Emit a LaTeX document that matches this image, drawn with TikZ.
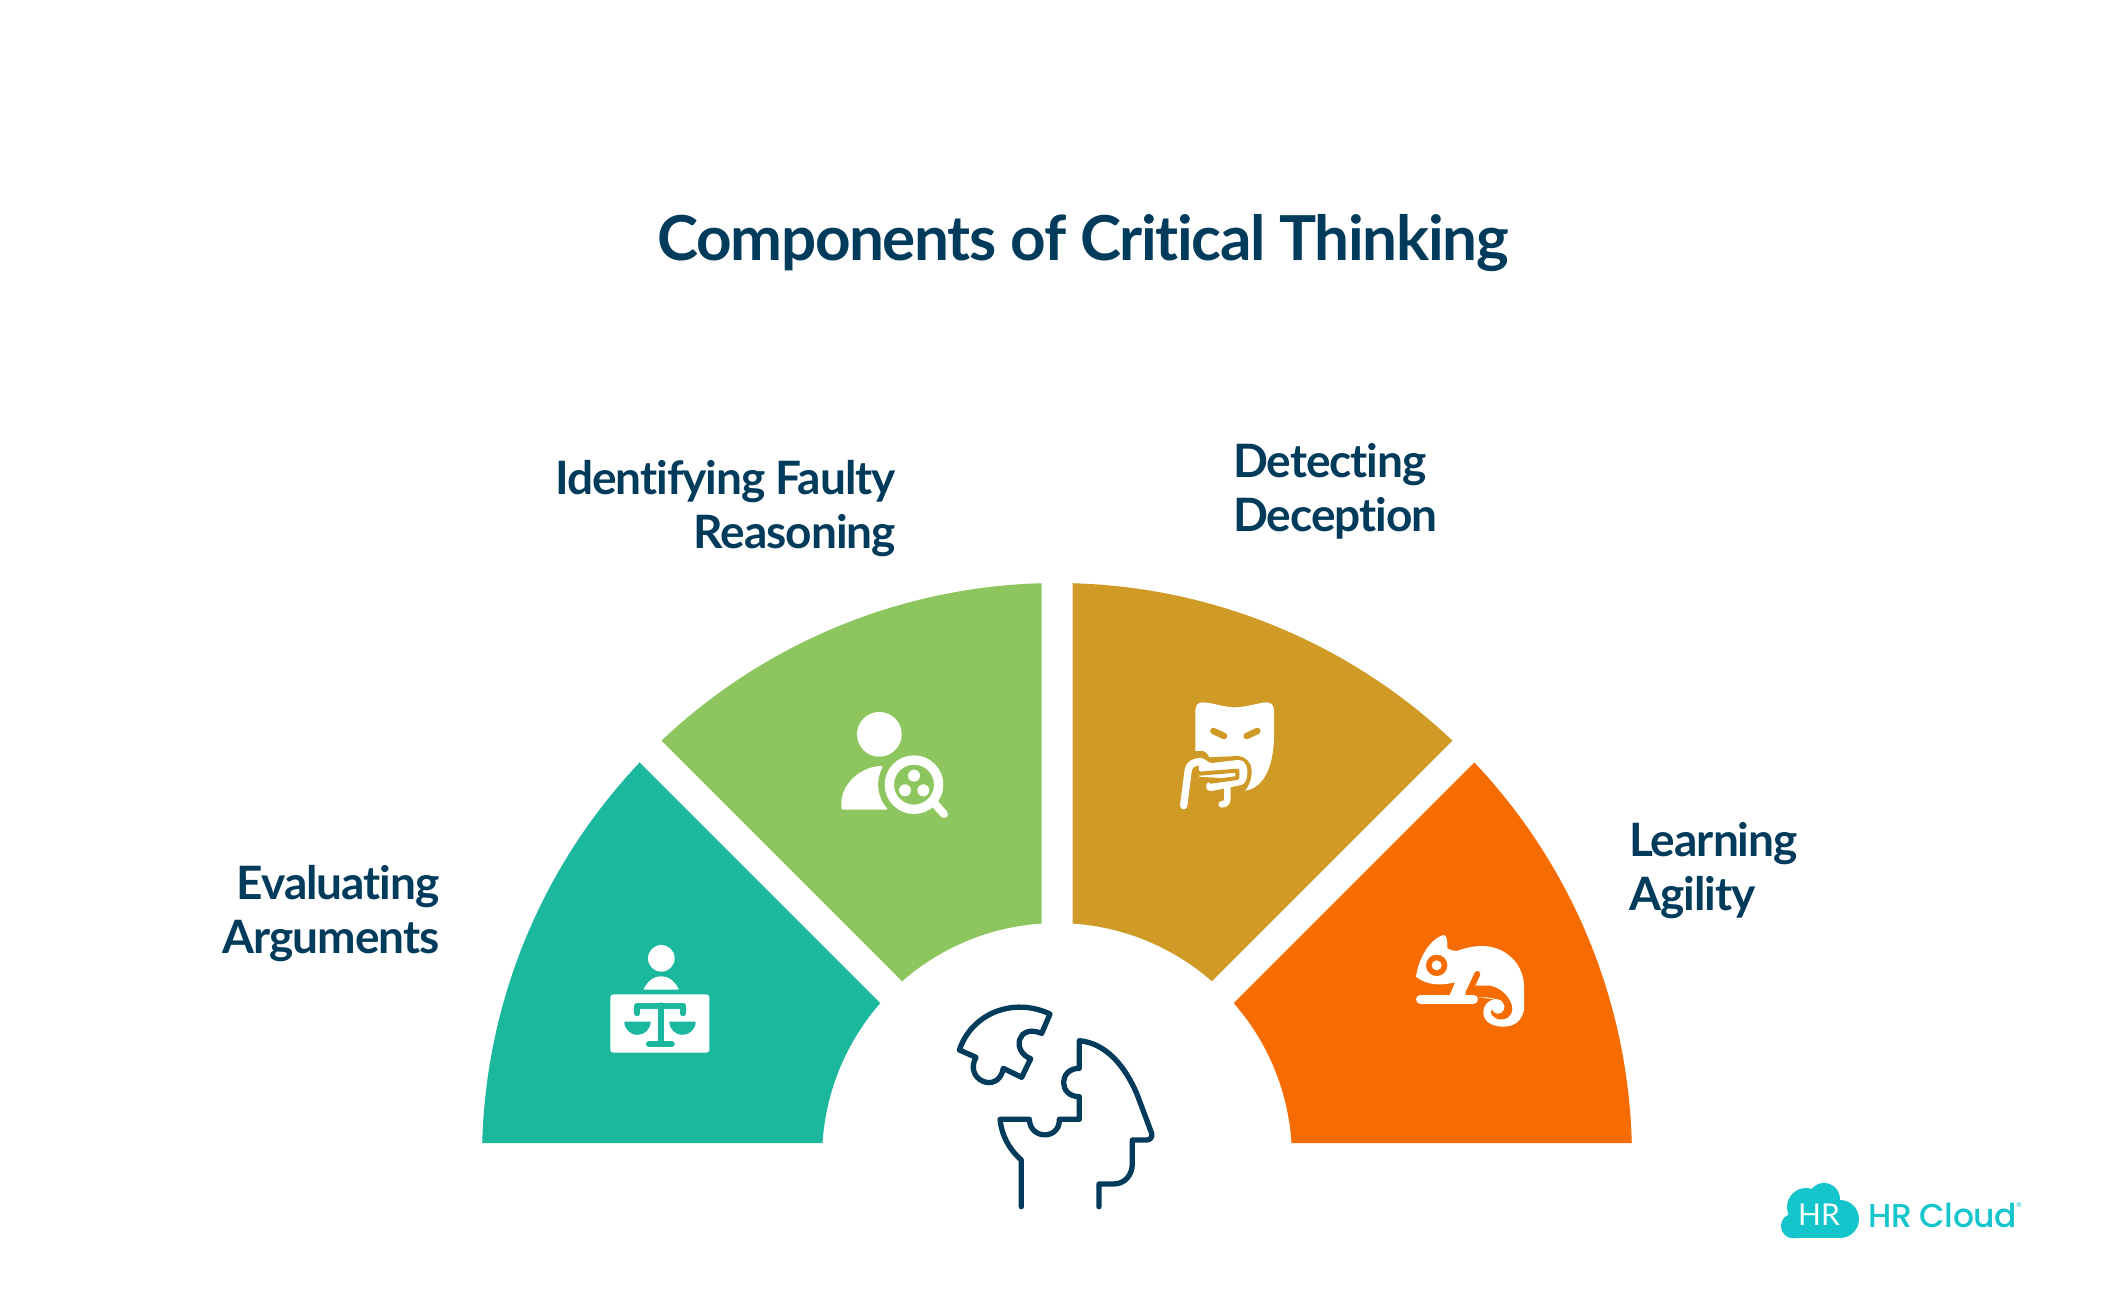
\documentclass[tikz,border=0pt]{standalone}
\usepackage{fontspec}
\setmainfont{Lato}
\newfontfamily\labelfont{Lato}[BoldFont={Lato Bold},LetterSpace=-2.2,Ligatures=NoCommon]
\newfontfamily\plainfont{Lato}
\newfontfamily\logofont{Poppins Medium}[LetterSpace=-1.5]
\definecolor{navy}{HTML}{003B5C}
\definecolor{tealc}{HTML}{1CB89D}
\definecolor{greenc}{HTML}{8DC65F}
\definecolor{goldc}{HTML}{CF9A25}
\definecolor{orangec}{HTML}{F76C00}
\definecolor{cyanc}{HTML}{14C6CC}
\newcommand{\sector}[5]{% colour, outer start, outer end, inner start, inner end
  \fill[#1] (#2:575) arc[start angle=#2,end angle=#3,radius=575pt] -- (#4:235) arc[start angle=#4,end angle=#5,radius=235pt] -- cycle;}
\tikzset{
  lbl/.style={inner sep=0pt,text=navy,font=\fontsize{46}{54}\selectfont\bfseries\labelfont},
  iconw/.style={draw=white,line cap=round,line join=round},
  brainline/.style={draw=navy,line width=5.3pt,line cap=round,line join=round},
}
\begin{document}
\begin{tikzpicture}[x=1pt,y=-1pt]
\useasboundingbox (0,0) rectangle (2112,1316);
\fill[white] (0,0) rectangle (2112,1316);
\node[lbl,font=\fontsize{62}{70}\selectfont\bfseries\labelfont,anchor=base] (title) at (1083,260) {Components of Critical Thinking};
\begin{scope}[shift={(1057,1158)},y=1pt]
\sector{tealc}{136.545}{178.505}{176.34}{138.78}
\sector{greenc}{133.455}{91.545}{93.78}{131.22}
\sector{goldc}{88.455}{46.545}{48.78}{86.22}
\sector{orangec}{43.455}{1.495}{3.66}{41.22}
\end{scope}
\node[lbl,align=right,anchor=east] (l1) at (440,914) {Evaluating\\Arguments};
\node[lbl,align=right,anchor=east] (l2) at (896,509) {Identifying Faulty\\Reasoning};
\node[lbl,align=left,anchor=west] (l3) at (1233,491) {Detecting\\Deception};
\node[lbl,align=left,anchor=west] (l4) at (1629,871) {Learning\\Agility};
% teal icon
\begin{scope}[shift={(590,930)},scale=.33333]
\fill[white] (214,85) circle (40pt);
\fill[white,rounded corners=1pt] (160,179) .. controls (175,150) and (195,139) .. (213,139) .. controls (232,139) and (252,150) .. (267,179) -- cycle;
\fill[white,rounded corners=3pt] (61,193) rectangle (358,368);
\draw[tealc,line width=6pt,line cap=round,line join=round] (142,250) -- (142,226.5) -- (279,226.5) -- (279,250);
\draw[tealc,line width=6pt,line cap=round] (213,226) -- (213,342);
\draw[tealc,line width=6.3pt,line cap=round] (177,342) -- (245,342);
\fill[tealc] (103,275) .. controls (103,297) and (120.6,314.5) .. (142.5,314.5) .. controls (164,314.5) and (182,297) .. (182,275) -- cycle;
\fill[tealc] (238,275) .. controls (238,297) and (255.6,314.5) .. (277.5,314.5) .. controls (299,314.5) and (317,297) .. (317,275) -- cycle;
\end{scope}
% green icon
\begin{scope}[shift={(800,680)},scale=.33333]
\fill[white] (238,163) circle (67pt);
\fill[white,rounded corners=1.5pt] (124,389) -- (124,375) .. controls (124,310) and (185,258) .. (250,258) .. controls (225,300) and (232,355) .. (265,389) -- cycle;
\draw[white,line width=9.3pt] (342,314) circle (74pt);
\fill[white] (342,287) circle (18pt) (315,331) circle (18pt) (370,331) circle (18pt);
\draw[iconw,line width=8pt] (405,372) -- (432,402);
\end{scope}
% gold icon
\begin{scope}[shift={(1150,680)},scale=.33333]
\fill[white] (136,215) -- (136,92) .. controls (136,75) and (145,66) .. (160,67) .. controls (195,70) and (225,82) .. (253,82) .. controls (285,82) and (320,70) .. (348,67) .. controls (362,66) and (372,75) .. (372,92) -- (372,165) .. controls (372,260) and (340,325) .. (285,332) -- (136,332) -- cycle;
\draw[goldc,line width=6.5pt,line cap=round] (190,153) -- (222,168) (290,168) -- (322,153);
\fill[goldc] (130,213) -- (160,213) .. controls (170,218) and (175,225) .. (178,232) -- (265,228) .. controls (290,232) and (305,250) .. (305,272) .. controls (305,300) and (295,320) .. (285,332) -- (285,350) -- (130,350) -- cycle;
\fill[white,rounded corners=2pt] (148,233) .. controls (162,235) and (172,243) .. (178,250) -- (262,240) .. controls (285,240) and (293,262) .. (292,282) .. controls (290,302) and (282,312) .. (270,316) -- (185,333) .. controls (165,333) and (165,305) .. (185,305) -- (230,295) -- (145,290) -- cycle;
\draw[goldc,line width=4pt,line join=round,line cap=round] (138,270) -- (148,281) -- (262,272) -- (262,294) -- (182,305);
\draw[iconw,line width=7.3pt] (101,377) -- (115,268) .. controls (118,252) and (135,245) .. (152,245);
\draw[iconw,line width=6.5pt] (232,322) -- (232,355) .. controls (232,368) and (225,373) .. (215,373);
\end{scope}
% orange icon
\begin{scope}[shift={(1400,920)},scale=.33333]
\fill[white] (48,170) .. controls (55,120) and (85,60) .. (130,45) .. controls (142,43) and (143,70) .. (142,85) .. controls (150,90) and (160,93) .. (170,93) .. controls (200,82) and (225,78) .. (245,78) .. controls (320,78) and (372,135) .. (372,200) -- (372,270) .. controls (365,305) and (340,320) .. (310,320) .. controls (270,320) and (250,300) .. (250,278) .. controls (250,255) and (265,240) .. (285,238) -- (200,228) -- (148,228) -- (165,187) .. controls (130,195) and (85,200) .. (48,170) -- cycle;
\fill[orangec] (224,197) -- (270,197) .. controls (310,205) and (335,240) .. (337,265) .. controls (337,290) and (315,303) .. (295,298) .. controls (278,292) and (268,280) .. (275,268) .. controls (280,280) and (295,285) .. (305,278) .. controls (318,268) and (318,245) .. (295,238) -- (262,232) -- (200,232) -- cycle;
\draw[orangec,line width=6pt,line cap=round] (232,162) -- (205,220);
\fill[orangec] (110,136) circle (32pt);
\fill[white] (110,136) circle (15pt);
\draw[iconw,line width=9.3pt] (62,238) -- (220,238);
\end{scope}
% centre head
\begin{scope}[shift={(950,1000)},scale=.33333]
\draw[brainline] (214,620) -- (214,480) .. controls (175,445) and (155,405) .. (150,358) -- (238,358) .. controls (240,420) and (330,420) .. (328,358) -- (388,358) -- (388,290) .. controls (325,290) and (325,205) .. (388,205) -- (388,122) .. controls (470,130) and (525,200) .. (560,280) -- (605,400) .. controls (608,412) and (600,420) .. (590,420) -- (547,420) -- (547,490) .. controls (547,525) and (525,552) .. (490,552) -- (447,552) -- (447,620);
\draw[brainline] (300,42) .. controls (190,-10) and (65,40) .. (28,150) -- (78,172) .. controls (40,240) and (145,285) .. (160,205) -- (215,232) -- (242,176) .. controls (185,155) and (200,70) .. (275,100) -- cycle;
\end{scope}
% logo
\fill[cyanc] (1793.3,1226) circle (12.4pt) (1806,1207) circle (19pt) (1824,1199) circle (16pt) (1840,1219) circle (19pt);
\fill[cyanc] (1793,1212) rectangle (1840,1238);
\node[inner sep=0pt,text=white,font=\fontsize{30}{30}\selectfont\plainfont,anchor=base] (hrmark) at (1819,1225) {HR};
\node[inner sep=0pt,text=cyanc,font=\fontsize{33}{33}\selectfont\logofont,anchor=base west] (hrname) at (1868,1227) {HR Cloud};
\node[inner sep=0pt,text=cyanc,font=\fontsize{7}{7}\selectfont\plainfont] (reg) at (2019,1205) {®};
\end{tikzpicture}
\end{document}
